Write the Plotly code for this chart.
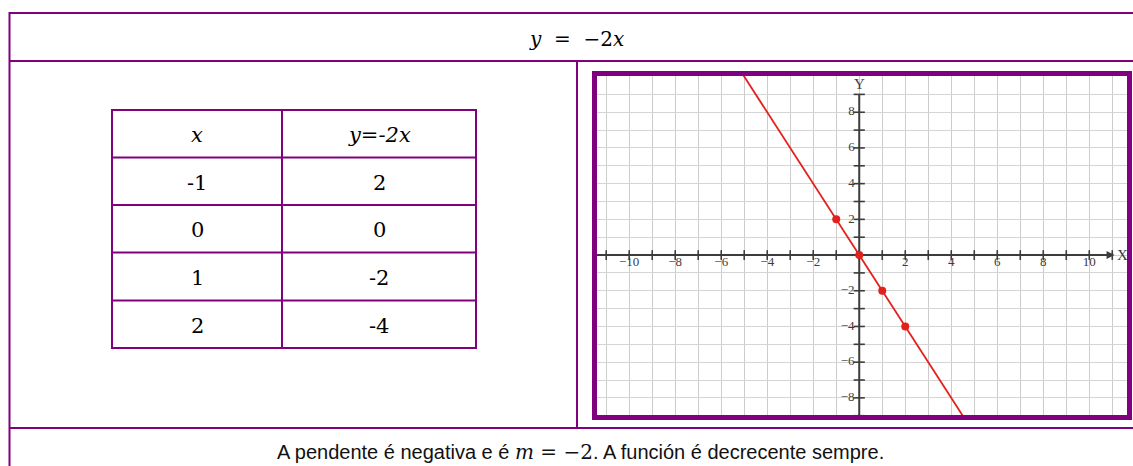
import plotly.graph_objects as go

W, H = 1133, 466

# ---------------- data ----------------
TABLE_X = [-1, 0, 1, 2]
TABLE_Y = [2, 0, -2, -4]
TABLE_HEADER = ["x", "y=-2x"]

LINE_X = [-5.5, 5.0]
LINE_Y = [11.0, -10.0]

X_TICK_VALS = [-10, -8, -6, -4, -2, 2, 4, 6, 8, 10]
X_TICK_LABELS = ["−10", "−8", "−6", "−4", "−2", "2", "4", "6", "8", "10"]
Y_TICK_VALS = [-8, -6, -4, -2, 2, 4, 6, 8]
Y_TICK_LABELS = ["−8", "−6", "−4", "−2", "2", "4", "6", "8"]
X_MINOR = list(range(-11, 12))
Y_MINOR = list(range(-9, 10))

TITLE = "<i>y</i>\u00a0\u00a0=\u00a0\u00a0−2<i>x</i>"
FOOTER = ('A pendente é negativa e é <span style="font-family:\'DejaVu Serif\'"><i>m</i>\u00a0=\u00a0−2</span>'
          '. A función é decrecente sempre.')

PURPLE = "#800080"
AXIS = "#3c3c3c"
RED = "#e3201b"


def px(x):
    return x / W


def py(y):
    return 1 - y / H


fig = go.Figure()

# ---------------- chart ----------------
fig.add_trace(go.Scatter(x=LINE_X, y=LINE_Y, mode="lines",
                         line=dict(color=RED, width=1.8), hoverinfo="skip"))
# axes
fig.add_trace(go.Scatter(x=[-11.4, 11.0], y=[0, 0], mode="lines",
                         line=dict(color=AXIS, width=2), hoverinfo="skip"))
fig.add_trace(go.Scatter(x=[0, 0], y=[-9.1, 9.0], mode="lines",
                         line=dict(color=AXIS, width=2), hoverinfo="skip"))
# tick marks
fig.add_trace(go.Scatter(x=X_MINOR, y=[0] * len(X_MINOR), mode="markers",
                         marker=dict(symbol="line-ns", size=7, line=dict(color=AXIS, width=1.6)),
                         hoverinfo="skip"))
fig.add_trace(go.Scatter(x=[0] * len(Y_MINOR), y=Y_MINOR, mode="markers",
                         marker=dict(symbol="line-ew", size=8, line=dict(color=AXIS, width=1.6)),
                         hoverinfo="skip"))
# tick labels
fig.add_trace(go.Scatter(x=X_TICK_VALS, y=[-0.05] * len(X_TICK_VALS), mode="text",
                         text=X_TICK_LABELS, textposition="bottom center",
                         textfont=dict(family="Liberation Serif", size=13, color=AXIS),
                         hoverinfo="skip"))
fig.add_trace(go.Scatter(x=[-0.2] * len(Y_TICK_VALS), y=Y_TICK_VALS, mode="text",
                         text=Y_TICK_LABELS, textposition="middle left",
                         textfont=dict(family="Liberation Serif", size=13, color=AXIS),
                         hoverinfo="skip"))
# points
fig.add_trace(go.Scatter(x=TABLE_X, y=TABLE_Y, mode="markers",
                         marker=dict(color=RED, size=8), hoverinfo="skip"))

# axis arrows and names
fig.add_annotation(x=11.1, y=0, ax=10.6, ay=0, xref="x", yref="y", axref="x", ayref="y",
                   showarrow=True, arrowhead=2, arrowsize=1, arrowwidth=1.6, arrowcolor=AXIS, text="")
fig.add_annotation(x=11.45, y=0, xref="x", yref="y", text="X", showarrow=False,
                   font=dict(family="Liberation Serif", size=15, color=AXIS))
fig.add_annotation(x=0, y=9.6, xref="x", yref="y", text="Y", showarrow=False,
                   font=dict(family="Liberation Serif", size=15, color=AXIS))

fig.update_xaxes(domain=[px(597), px(1127)], range=[-11.4, 11.64], dtick=1, tick0=0,
                 showgrid=True, gridcolor="#cccccc", gridwidth=1.2, zeroline=False,
                 showticklabels=False, showline=False, ticks="", fixedrange=True)
fig.update_yaxes(domain=[py(415), py(76)], range=[-8.96, 10.03], dtick=1, tick0=0,
                 showgrid=True, gridcolor="#d4d4d4", gridwidth=1.2, zeroline=False,
                 showticklabels=False, showline=False, ticks="", fixedrange=True)

# ---------------- layout shapes (document table) ----------------
shapes = []


def hline(y, x0, x1, w=2):
    shapes.append(dict(type="line", xref="paper", yref="paper", x0=px(x0), x1=px(x1),
                       y0=py(y), y1=py(y), line=dict(color=PURPLE, width=w)))


def vline(x, y0, y1, w=2):
    shapes.append(dict(type="line", xref="paper", yref="paper", x0=px(x), x1=px(x),
                       y0=py(y0), y1=py(y1), line=dict(color=PURPLE, width=w)))


# outer table
hline(13, 9, 1133)
hline(61, 9, 1133)
hline(428, 9, 1133)
vline(9.5, 12, 466)
vline(577, 61, 428)

# inner table
ROWS_Y = [110, 157.5, 205, 252.5, 300.5, 348]
for yy in ROWS_Y:
    hline(yy, 111, 477)
vline(112, 110, 348)
vline(282, 110, 348)
vline(476, 110, 348)

# chart frame
shapes.append(dict(type="rect", xref="paper", yref="paper", x0=px(594.5), x1=px(1129.5),
                   y0=py(417.5), y1=py(73.5), line=dict(color=PURPLE, width=5),
                   fillcolor="rgba(0,0,0,0)"))

fig.update_layout(shapes=shapes)

# ---------------- texts ----------------
fig.add_annotation(x=px(576), y=py(39), xref="paper", yref="paper", text=TITLE,
                   showarrow=False, xanchor="center", yanchor="middle",
                   font=dict(family="DejaVu Serif", size=20, color="#000000"))

COL_X = [197, 379]
cell_font = dict(family="DejaVu Serif", size=21, color="#000000")
for j, h in enumerate(TABLE_HEADER):
    fig.add_annotation(x=px(COL_X[j]), y=py((ROWS_Y[0] + ROWS_Y[1]) / 2 + 1), xref="paper", yref="paper",
                       text=f"<i>{h}</i>", showarrow=False, xanchor="center", yanchor="middle",
                       font=cell_font)
for i, (xv, yv) in enumerate(zip(TABLE_X, TABLE_Y)):
    yc = (ROWS_Y[i + 1] + ROWS_Y[i + 2]) / 2 + 1.5
    for j, v in enumerate([xv, yv]):
        fig.add_annotation(x=px(COL_X[j]), y=py(yc), xref="paper", yref="paper",
                           text=str(v), showarrow=False, xanchor="center", yanchor="middle",
                           font=cell_font)

fig.add_annotation(x=px(580.5), y=py(452), xref="paper", yref="paper", text=FOOTER,
                   showarrow=False, xanchor="center", yanchor="middle",
                   font=dict(family="Liberation Sans", size=20, color="#111111"))

fig.update_layout(width=W, height=H, margin=dict(l=0, r=0, t=0, b=0),
                  paper_bgcolor="white", plot_bgcolor="white", showlegend=False)

fig.write_html("out.html", config={"displayModeBar": False})

# remove the default page margin so the figure sits at the window origin
with open("out.html", "r", encoding="utf-8") as f:
    html = f.read()
html = html.replace("<head>", "<head><style>html,body{margin:0;padding:0;overflow:hidden;}</style>", 1)
with open("out.html", "w", encoding="utf-8") as f:
    f.write(html)
